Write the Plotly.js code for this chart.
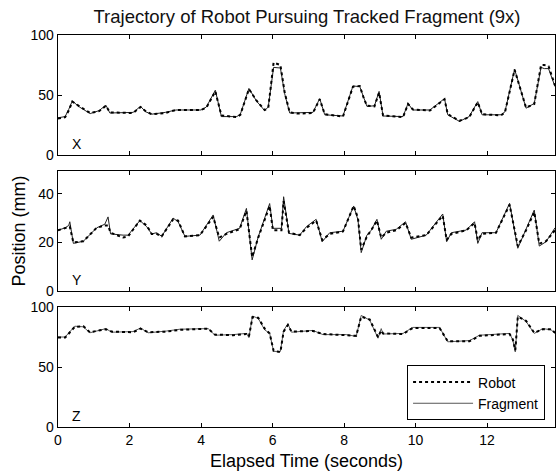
<!DOCTYPE html>
<html>
<head>
<meta charset="utf-8">
<script src="https://cdn.plot.ly/plotly-3.0.1.min.js"></script>
<style>
html,body{margin:0;padding:0;background:#fff;}
#chart{width:556px;height:474px;}
</style>
</head>
<body>
<div id="chart"></div>
<script>
// ---- Data ----
var tX = [0, 0.2, 0.3, 0.4, 0.6, 0.9, 1.15, 1.34, 1.45, 2.1, 2.31, 2.45, 2.62, 3.0, 3.3, 4.0, 4.15, 4.4, 4.57, 5.0, 5.1, 5.34, 5.55, 5.78, 5.88, 6.03, 6.22, 6.34, 6.48, 6.7, 7.13, 7.32, 7.46, 7.97, 8.25, 8.44, 8.55, 8.64, 8.85, 8.98, 9.09, 9.65, 9.79, 9.92, 10.4, 10.81, 10.9, 11.23, 11.5, 11.74, 11.86, 12.39, 12.5, 12.77, 13.09, 13.32, 13.51, 13.6, 13.72, 13.9];
var xFragment = [31, 32, 38, 45, 40, 34.5, 37, 41.5, 35, 35.5, 40.5, 36, 34, 35.5, 37.5, 37.5, 40, 54, 32, 32, 34, 55.5, 45, 37, 40, 73, 72.5, 51, 35, 35, 35.5, 47, 33.5, 32.5, 57.5, 57, 47, 40.5, 41, 53, 32.5, 32, 43, 37.5, 37.5, 47, 33.5, 28, 32, 44.5, 33.5, 33.5, 36, 71.5, 39, 43, 73, 72, 72, 57];
var xRobot    = [30.5, 31.5, 37, 44.5, 40.5, 35, 36.5, 41, 35.5, 35, 40, 36.5, 34, 35, 37.5, 37.5, 39.5, 53, 33, 31.5, 33.5, 55, 45.5, 37.5, 39, 77, 75, 52, 35.5, 34.5, 35, 46.5, 34, 32, 57, 57.5, 47.5, 41, 40.5, 52, 33, 31.5, 42.5, 38, 37, 46.5, 34, 28.5, 31.5, 44, 34, 33, 35.5, 71, 39.5, 42.5, 75, 75, 74, 58];

var tY = [0, 0.2, 0.3, 0.33, 0.43, 0.71, 1.08, 1.31, 1.4, 1.47, 1.82, 1.96, 2.29, 2.48, 2.62, 2.76, 2.9, 3.22, 3.36, 3.55, 3.97, 4.34, 4.51, 4.71, 5.08, 5.27, 5.43, 5.6, 5.92, 6.01, 6.25, 6.31, 6.46, 6.76, 6.95, 7.22, 7.39, 7.6, 7.97, 8.27, 8.39, 8.48, 8.64, 8.76, 8.92, 9.04, 9.18, 9.46, 9.72, 9.88, 10.3, 10.58, 10.76, 10.87, 11.0, 11.42, 11.65, 11.74, 11.86, 12.25, 12.63, 12.86, 13.09, 13.32, 13.46, 13.65, 13.9];
var yFragment = [25, 26, 27, 28.5, 19.6, 20.5, 26, 27.5, 30.5, 23.5, 23, 23, 29, 26.5, 23.5, 24, 22.5, 30, 28.5, 22.5, 23, 31.3, 20.5, 24, 25.8, 34, 12.8, 22.3, 36, 25.8, 25.8, 38.8, 23.7, 23, 26.5, 29.5, 20.3, 24, 24.6, 35, 29.2, 15.8, 23, 25, 29.5, 21.3, 24.6, 25.4, 28.5, 21.3, 23, 28.5, 31.7, 20.3, 24, 25.1, 28.5, 19.6, 24, 24, 36.1, 17.6, 25.1, 33.3, 18.5, 20.3, 26];
var yRobot    = [25, 26, 26.5, 26.5, 20, 20.5, 26, 27, 27, 24, 22, 22.5, 29, 27, 23.5, 23.5, 22.5, 29.5, 29, 22.5, 23, 30.5, 22, 23.5, 25.5, 33, 14, 22, 35, 25, 25, 37, 24, 23, 26, 29, 21, 23.5, 24.5, 35, 30, 17, 22.5, 25, 29, 22, 24, 25, 28, 22, 23, 28, 31, 21, 23.5, 25, 28, 21, 23.5, 24, 35.5, 18.5, 25, 32.5, 19.5, 20.5, 25];

var tZ = [0, 0.2, 0.47, 0.71, 0.89, 1.17, 1.34, 1.5, 2.1, 2.31, 2.52, 3.04, 3.41, 4.2, 4.39, 4.9, 5.27, 5.34, 5.44, 5.6, 5.78, 5.92, 6.03, 6.22, 6.31, 6.43, 6.53, 7.13, 7.41, 8.06, 8.34, 8.48, 8.72, 8.95, 9.04, 9.09, 9.65, 9.92, 10.67, 10.9, 11.51, 11.79, 12.63, 12.72, 12.79, 12.86, 13.09, 13.32, 13.56, 13.79, 13.9];
var zFragment = [75, 75, 84, 83.5, 78.5, 81, 82, 79, 79.5, 82.5, 78.5, 80, 81.5, 82, 76.5, 77, 78, 74.5, 92.5, 90.5, 81, 78, 63, 63, 80.5, 86, 79, 80.5, 77, 77, 75.5, 93, 89, 74, 82, 77.5, 78, 83, 83, 71, 72, 76.5, 78, 72.5, 62.5, 93, 88, 78, 82, 81, 78];
var zRobot    = [74.5, 74.5, 83.5, 84, 79, 80.5, 81.5, 79.5, 79, 82, 79, 79.5, 81, 82, 77, 76.5, 77.5, 75.5, 91.5, 91, 82, 78, 63.5, 62.5, 79.5, 85, 79.5, 80, 77.5, 76.5, 76, 92, 89.5, 75, 80.5, 78, 77.5, 82.5, 82.5, 71.5, 71.5, 76, 77.5, 73, 64, 92, 88.5, 78.5, 81.5, 81.5, 78.5];

var panelLabels = ['X', 'Y', 'Z'];
var seriesNames = ['Robot', 'Fragment'];
var xTicks = [0, 2, 4, 6, 8, 10, 12];
var yTicksXZ = [0, 50, 100];
var yTicksY = [0, 20, 40];

// ---- Styles ----
var FONT = 'Liberation Sans, Arial, Helvetica, sans-serif';
var robotLine = {color: '#000', width: 2, dash: 'dot'};
var fragLine = {color: '#222', width: 1};

function pair(t, frag, rob, xa, ya) {
  return [
    {x: t, y: frag, xaxis: xa, yaxis: ya, type: 'scatter', mode: 'lines', name: seriesNames[1], line: fragLine, showlegend: false, legendrank: 2},
    {x: t, y: rob, xaxis: xa, yaxis: ya, type: 'scatter', mode: 'lines', name: seriesNames[0], line: robotLine, showlegend: false, legendrank: 1}
  ];
}

var traces = [].concat(
  pair(tX, xFragment, xRobot, 'x', 'y'),
  pair(tY, yFragment, yRobot, 'x2', 'y2'),
  pair(tZ, zFragment, zRobot, 'x3', 'y3')
);
// legend entries come from the bottom panel
traces[4].showlegend = true;
traces[5].showlegend = true;
traces[4].line = {color: '#555', width: 1};

function xax(anchor, labels) {
  return {
    domain: [0, 1], anchor: anchor, range: [0, 13.9],
    tickvals: xTicks, ticktext: xTicks.map(String), showticklabels: labels,
    ticks: 'inside', ticklen: 4, tickwidth: 1, tickcolor: '#000',
    showline: true, linecolor: '#000', linewidth: 1.3, mirror: 'allticks',
    showgrid: false, zeroline: false,
    tickfont: {family: FONT, size: 14, color: '#000'}
  };
}
function yax(anchor, domain, range, ticks) {
  return {
    domain: domain, anchor: anchor, range: range,
    tickvals: ticks, ticktext: ticks.map(String),
    ticks: 'inside', ticklen: 4, tickwidth: 1, tickcolor: '#000',
    showline: true, linecolor: '#000', linewidth: 1.3, mirror: 'allticks',
    showgrid: false, zeroline: false,
    tickfont: {family: FONT, size: 14, color: '#000'}
  };
}

var layout = {
  width: 556, height: 474,
  margin: {l: 58, r: 1, t: 35, b: 47, pad: 0},
  paper_bgcolor: '#fff', plot_bgcolor: '#fff',
  font: {family: FONT, color: '#000'},
  title: {text: 'Trajectory of Robot Pursuing Tracked Fragment (9x)', font: {family: FONT, size: 18.5, color: '#111'},
          x: 307/556, xanchor: 'center', y: 1 - 17/474, yanchor: 'middle'},
  xaxis: xax('y', false),
  xaxis2: xax('y2', false),
  xaxis3: Object.assign(xax('y3', true), {title: {text: 'Elapsed Time (seconds)', font: {family: FONT, size: 18, color: '#000'}, standoff: 7}}),
  yaxis: yax('x', [0.6939, 1], [0, 100], yTicksXZ),
  yaxis2: Object.assign(yax('x2', [0.3469, 0.6531], [0, 49.4], yTicksY), {title: {text: 'Position (mm)', font: {family: FONT, size: 18, color: '#000'}, standoff: 8}}),
  yaxis3: yax('x3', [0, 0.3061], [0, 100], yTicksXZ),
  showlegend: true,
  legend: {x: 0.98, xanchor: 'right', y: 0.157, yanchor: 'top', bgcolor: '#fff', bordercolor: '#000', borderwidth: 1,
           font: {family: FONT, size: 14, color: '#000'}, traceorder: 'normal', tracegroupgap: 0, itemwidth: 60},
  annotations: panelLabels.map(function (lab, i) {
    var n = i === 0 ? '' : String(i + 1);
    return {text: lab, xref: 'x' + n + ' domain', yref: 'y' + n + ' domain', x: 0.025, y: 0.09,
            xanchor: 'left', yanchor: 'middle', showarrow: false, font: {family: FONT, size: 14, color: '#000'}};
  })
};

Plotly.newPlot('chart', traces, layout, {displayModeBar: false, staticPlot: true});
</script>
</body>
</html>
